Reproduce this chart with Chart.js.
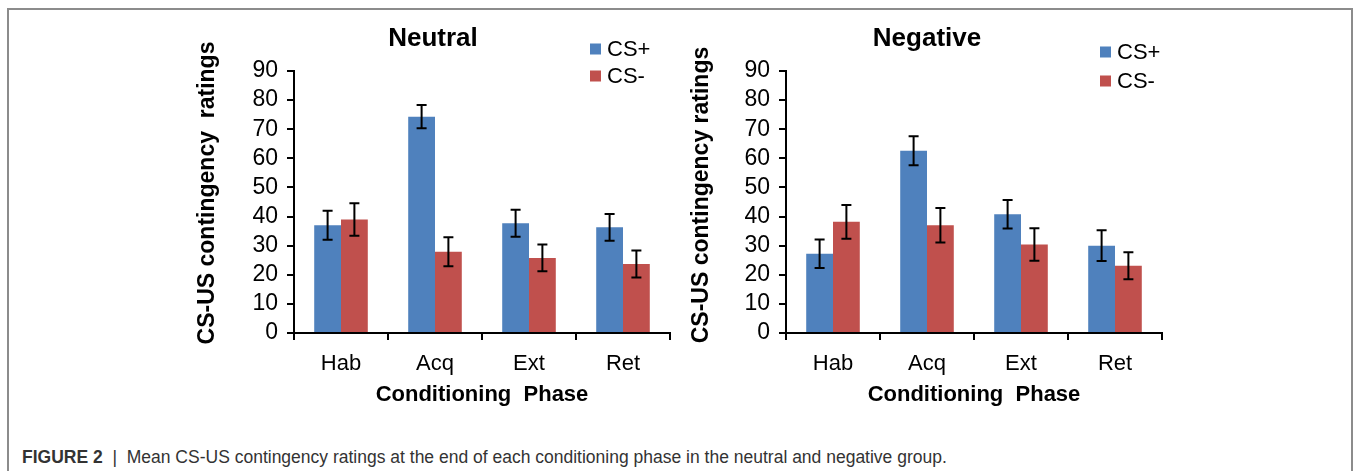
<!DOCTYPE html>
<html>
<head>
<meta charset="utf-8">
<script src="https://cdn.jsdelivr.net/npm/chart.js@4.4.0/dist/chart.umd.min.js"></script>
<style>
  body { margin: 0; background: #fff; width: 1354px; height: 471px; overflow: hidden; position: relative; font-family: "Liberation Sans", Arial, sans-serif; }
  #frame { position: absolute; left: 7px; top: 8px; width: 1346px; height: 500px; border: 2px solid #8c8c8c; border-bottom: none; box-sizing: border-box; }
  canvas { position: absolute; }
  #caption { position: absolute; left: 22px; top: 447px; font-size: 17.5px; color: #333; white-space: nowrap; }
  #caption b { font-weight: bold; }
</style>
</head>
<body>
<div id="frame"></div>
<canvas id="neutral" width="495" height="395" style="left:185px;top:15px"></canvas>
<canvas id="negative" width="495" height="395" style="left:680px;top:15px"></canvas>
<div id="caption"><b>FIGURE 2</b> &nbsp;|&nbsp; Mean CS-US contingency ratings at the end of each conditioning phase in the neutral and negative group.</div>
<script>
const fases = ['Hab', 'Acq', 'Ext', 'Ret'];
const rotulosSerie = ['CS+', 'CS-'];
const coresSerie = ['#4F81BD', '#C0504D'];

const neutroCSmais = [37, 74.3, 37.7, 36.3];
const neutroCSmenos = [39, 27.9, 25.8, 23.7];
const neutroErroMais = [5, 4, 4.6, 4.6];
const neutroErroMenos = [5.6, 5, 4.6, 4.6];

const negativoCSmais = [27.2, 62.6, 40.8, 30];
const negativoCSmenos = [38.2, 37, 30.4, 23.1];
const negativoErroMais = [4.9, 5, 4.9, 5.3];
const negativoErroMenos = [5.8, 5.9, 5.6, 4.6];

const fonte = '"Liberation Sans", Arial, sans-serif';

const pluginErro = {
    id: 'barrasErro',
    afterDatasetsDraw(chart) {
        const ctx = chart.ctx;
        const escalaY = chart.scales.y;
        ctx.save();
        ctx.strokeStyle = '#000';
        ctx.lineWidth = 2;
        chart.data.datasets.forEach((ds, i) => {
            const meta = chart.getDatasetMeta(i);
            meta.data.forEach((barra, j) => {
                const v = ds.data[j];
                const e = ds.erro[j];
                const yAlto = escalaY.getPixelForValue(v + e);
                const yBaixo = escalaY.getPixelForValue(v - e);
                const x = barra.x;
                ctx.beginPath();
                ctx.moveTo(x, yAlto); ctx.lineTo(x, yBaixo);
                ctx.moveTo(x - 5, yAlto); ctx.lineTo(x + 5, yAlto);
                ctx.moveTo(x - 5, yBaixo); ctx.lineTo(x + 5, yBaixo);
                ctx.stroke();
            });
        });
        ctx.restore();
    }
};

// titulo, legenda e titulo do eixo Y desenhados a mao
const pluginTextos = {
    id: 'textos',
    afterDraw(chart, args, opts) {
        const ctx = chart.ctx;
        ctx.save();
        ctx.fillStyle = '#000';
        ctx.font = 'bold 26px ' + fonte;
        ctx.textAlign = 'center';
        ctx.textBaseline = 'middle';
        ctx.fillText(opts.titulo, opts.tituloX, 24);

        ctx.save();
        ctx.translate(opts.eixoX, opts.eixoY);
        ctx.rotate(-Math.PI / 2);
        ctx.font = 'bold 23px ' + fonte;
        ctx.fillText(opts.tituloEixo, 0, 0);
        ctx.restore();

        ctx.font = '22px ' + fonte;
        ctx.textAlign = 'left';
        chart.data.datasets.forEach((ds, i) => {
            const y = opts.legendaY + i * opts.legendaPasso;
            ctx.fillStyle = ds.backgroundColor;
            ctx.fillRect(opts.legendaX, y - 5.5, 11, 11);
            ctx.fillStyle = '#000';
            ctx.fillText(ds.label, opts.legendaX + 17, y + 1);
        });
        ctx.restore();
    }
};

function criarGrafico(id, dadosMais, dadosMenos, erroMais, erroMenos, cfg) {
    const ctx = document.getElementById(id).getContext('2d');
    return new Chart(ctx, {
        type: 'bar',
        data: {
            labels: fases,
            datasets: [
                { label: rotulosSerie[0], data: dadosMais, erro: erroMais, backgroundColor: coresSerie[0] },
                { label: rotulosSerie[1], data: dadosMenos, erro: erroMenos, backgroundColor: coresSerie[1] }
            ]
        },
        options: {
            responsive: false,
            animation: false,
            devicePixelRatio: 1,
            layout: { padding: { left: 0, top: 56, right: cfg.padDir, bottom: 0 } },
            datasets: { bar: { categoryPercentage: 0.57, barPercentage: 1 } },
            plugins: {
                legend: { display: false },
                title: { display: false },
                tooltip: { enabled: false },
                textos: cfg.textos
            },
            scales: {
                x: {
                    afterFit(scale) { scale.height = 77; },
                    grid: { offset: true, drawOnChartArea: false, tickLength: 7, color: '#000', lineWidth: 2 },
                    border: { color: '#000', width: 2 },
                    ticks: { color: '#000', font: { family: fonte, size: 22 }, padding: 11 },
                    title: { display: true, text: 'Conditioning  Phase', color: '#000', font: { family: fonte, size: 22, weight: 'bold' }, padding: { top: 4, bottom: 2 } }
                },
                y: {
                    min: 0,
                    max: 90,
                    afterFit(scale) { scale.width = cfg.larguraY; },
                    grid: { drawOnChartArea: false, tickLength: 7, color: '#000', lineWidth: 2 },
                    border: { color: '#000', width: 2 },
                    ticks: { stepSize: 10, autoSkip: false, color: '#000', font: { family: fonte, size: 23 }, padding: 9 }
                }
            }
        },
        plugins: [pluginErro, pluginTextos]
    });
}

criarGrafico('neutral', neutroCSmais, neutroCSmenos, neutroErroMais, neutroErroMenos, {
    padDir: 10, larguraY: 109,
    textos: { titulo: 'Neutral', tituloX: 248, legendaX: 405, legendaY: 34, legendaPasso: 27,
              tituloEixo: 'CS-US contingency  ratings', eixoX: 23, eixoY: 178 }
});

criarGrafico('negative', negativoCSmais, negativoCSmenos, negativoErroMais, negativoErroMenos, {
    padDir: 13, larguraY: 106,
    textos: { titulo: 'Negative', tituloX: 247, legendaX: 420, legendaY: 37, legendaPasso: 29,
              tituloEixo: 'CS-US contingency ratings', eixoX: 22, eixoY: 180 }
});
</script>
</body>
</html>
